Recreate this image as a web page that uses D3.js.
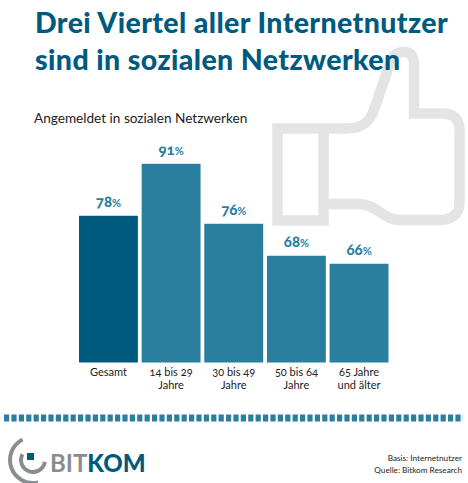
<!DOCTYPE html>
<html>
<head>
<meta charset="utf-8">
<script src="https://cdn.jsdelivr.net/npm/d3@7"></script>
<style>
  html, body { margin: 0; padding: 0; background: #fff; }
  svg { display: block; }
  text { font-family: Lato, "Open Sans", sans-serif; font-variant-numeric: oldstyle-nums; }
</style>
</head>
<body>
<script>
const categories = ['Gesamt', '14 bis 29|Jahre', '30 bis 49|Jahre', '50 bis 64|Jahre', '65 Jahre|und älter'];
const values = [78, 91, 76, 68, 66];
const titleLines = ['Drei Viertel aller Internetnutzer', 'sind in sozialen Netzwerken'];
const subtitle = 'Angemeldet in sozialen Netzwerken';
const sourceLines = ['Basis: Internetnutzer', 'Quelle: Bitkom Research'];

const width = 468;
const height = 483;
const dark = '#005a7e';
const teal = '#2a7f9f';

const svg = d3.select('body').append('svg')
    .attr('width', width)
    .attr('height', height);

// thumb in the background: cuff, then the hand
svg.append('path')
    .attr('d', 'M277.5 128.5 H323.5 V220.5 H277.5 Z M323.5 128.5 H347 C364 128.5 371 120 375 107 L387 72 C391 58 394 52 404 52 C412 52 414 58 414 66 V113.5 H443 C454 113.5 459.5 120 459.5 130 V203 C459.5 214 452 220 440 220 H400 C382 220 378 204 358 204 H323.5')
    .attr('fill', 'none')
    .attr('stroke', '#e4e4e4')
    .attr('stroke-width', 10.5);

// the bars do not start at zero in the original
const x = d3.scaleBand().domain(categories).range([79, 388.5]).paddingInner(0.06);
const y = d3.scaleLinear().domain([41.3, 91]).range([362.5, 163.8]);

svg.selectAll('.bar').data(values).join('rect')
    .attr('class', 'bar')
    .attr('x', (d, i) => x(categories[i]))
    .attr('y', (d) => y(d))
    .attr('width', x.bandwidth())
    .attr('height', (d) => y.range()[0] - y(d))
    .attr('fill', (d, i) => i === 0 ? dark : teal);

const labels = svg.selectAll('.value').data(values).join('text')
    .attr('class', 'value')
    .attr('x', (d, i) => x(categories[i]) + x.bandwidth() / 2)
    .attr('y', (d) => y(d) - 8.5)
    .attr('text-anchor', 'middle')
    .attr('fill', teal)
    .attr('font-weight', 900)
    .attr('font-size', 15);
labels.append('tspan').text((d) => d);
labels.append('tspan').attr('font-size', 11).attr('font-weight', 700).text('%');

// category labels through the axis, split on |
const axis = svg.append('g')
    .attr('transform', `translate(0,${y.range()[0]})`)
    .call(d3.axisBottom(x).tickSize(0).tickFormat(''));
axis.select('.domain').remove();
axis.selectAll('.tick text').each(function (d) {
    const t = d3.select(this)
        .attr('y', 0)
        .attr('dy', null)
        .attr('font-size', 11)
        .attr('font-family', null)
        .attr('fill', '#222');
    d.split('|').forEach((line, i) => {
        t.append('tspan').attr('x', 0).attr('y', 13.5 + i * 12.5).text(line);
    });
});

// header
svg.selectAll('.title').data(titleLines).join('text')
    .attr('class', 'title')
    .attr('x', 35)
    .attr('y', (d, i) => 33 + i * 37)
    .attr('fill', dark)
    .attr('font-weight', 900)
    .attr('font-size', 28.5)
    .attr('letter-spacing', 0.4)
    .text((d) => d);

svg.append('text')
    .attr('x', 34)
    .attr('y', 123)
    .attr('fill', '#222')
    .attr('font-size', 13.6)
    .text(subtitle);

// dashed separator
svg.append('line')
    .attr('x1', 4).attr('x2', 463)
    .attr('y1', 418).attr('y2', 418)
    .attr('stroke', teal)
    .attr('stroke-width', 7)
    .attr('stroke-dasharray', '5.2 2.2');

// logo
const arc = d3.arc();
const logo = svg.append('g').attr('transform', 'translate(33,460)');
logo.append('path')
    .attr('fill', '#8a8d8f')
    .attr('d', arc({ innerRadius: 21, outerRadius: 25, startAngle: -Math.PI * 0.15, endAngle: -Math.PI * 1.07 }));
logo.append('path')
    .attr('fill', '#8a8d8f')
    .attr('d', arc({ innerRadius: 10, outerRadius: 14, startAngle: -Math.PI * 0.34, endAngle: -Math.PI * 1.45 }));
logo.append('rect')
    .attr('x', -6).attr('y', -7)
    .attr('width', 7).attr('height', 7)
    .attr('fill', dark);

const logoText = svg.append('text')
    .attr('x', 50)
    .attr('y', 472)
    .attr('font-size', 24)
    .attr('font-weight', 700);
logoText.append('tspan').attr('fill', '#8a8d8f').text('BIT');
logoText.append('tspan').attr('fill', dark).attr('font-weight', 900).text('KOM');

// source
svg.selectAll('.source').data(sourceLines).join('text')
    .attr('class', 'source')
    .attr('x', 462)
    .attr('y', (d, i) => 461 + i * 12)
    .attr('text-anchor', 'end')
    .attr('fill', '#222')
    .attr('font-size', 8.2)
    .text((d) => d);
</script>
</body>
</html>
